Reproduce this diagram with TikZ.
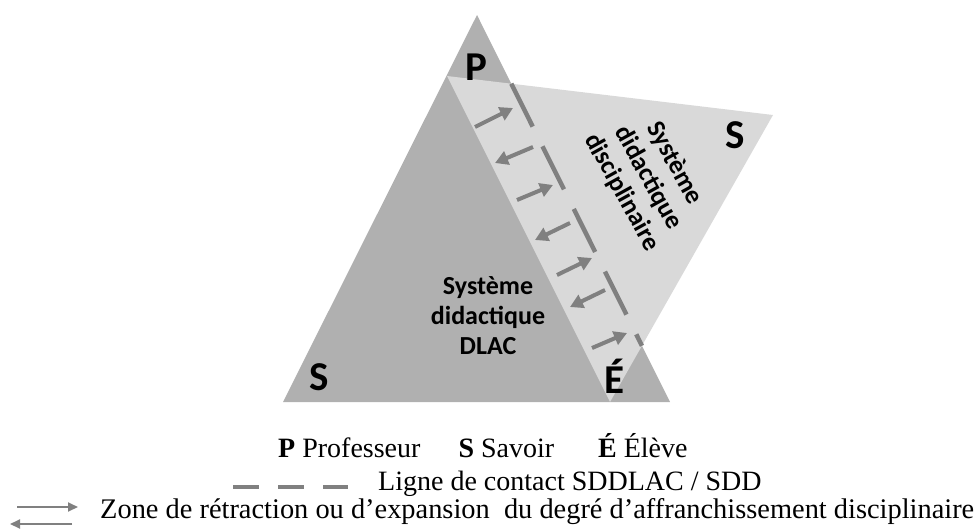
\documentclass[tikz,border=0pt]{standalone}
\usepackage{fontspec}
\setmainfont{Liberation Serif}
\newfontfamily\calib{Carlito}
\usetikzlibrary{arrows.meta}
\begin{document}
\begin{tikzpicture}[x=1pt,y=-1pt]
        \tikzstyle{sommet}=[font=\calib\bfseries\fontsize{41}{41}\selectfont, inner sep=0pt, anchor=base];
        \tikzstyle{systeme}=[font=\calib\bfseries\fontsize{26}{30}\selectfont, align=center, inner sep=0pt];
        \tikzstyle{legende}=[font=\fontsize{28}{28}\selectfont, inner sep=0pt, anchor=base west];
        \tikzstyle{fleche}=[draw=black!50, line width=4pt, -{Triangle[length=13pt,width=14pt]}];
        \tikzstyle{contact}=[draw=black!50, line width=4.5pt, dash pattern=on 48pt off 22pt];
        \useasboundingbox (0,0) rectangle (979,530);
        % les deux systemes
        \coordinate (P) at (477,15);
        \coordinate (S1) at (283,402);
        \coordinate (E) at (670,402);
        \coordinate (P2) at (447,76);
        \coordinate (S2) at (773,115);
        \coordinate (E2) at (610,402);
        \fill[black!31] (P) -- (S1) -- (E) -- cycle;
        \fill[black!15] (P2) -- (S2) -- (E2) -- cycle;
        \coordinate (c1) at (intersection of P--E and P2--S2);
        \coordinate (c2) at (intersection of P--E and S2--E2);
        \draw[contact] (c1) -- (c2);
        \foreach \x/\y/\u/\v in {475/127/513/108, 517/200/553/185, 557/275/592/258, 592/348/627/333, 533/147/495/163, 570/223/535/240, 605/290/570/307}
            \draw[fleche] (\x,\y) -- (\u,\v);
        \node[sommet] (lP) at (476,80) {P};
        \node[sommet] (lS2) at (735,148) {S};
        \node[sommet] (lS1) at (319,390) {S};
        \node[sommet] (lE) at (614,393) {É};
        \node[systeme] (dlac) at (488,316) {Système\\didactique\\DLAC};
        \node[systeme, rotate=-61] (sdd) at (648,178) {Système\\didactique\\disciplinaire};
        % legende
        \node[legende] (leg1) at (278,457) {\textbf{P} Professeur\hspace{38pt}\textbf{S} Savoir\hspace{44pt}\textbf{É} Élève};
        \node[legende] (leg2) at (378,490) {Ligne de contact SDDLAC / SDD};
        \node[legende, font=\fontsize{28.4}{28.4}\selectfont] (leg3) at (100,518) {Zone de rétraction ou d’expansion\ \ du degré d’affranchissement disciplinaire};
        \draw[black!50, line width=4pt, dash pattern=on 26pt off 19pt] (233,487) -- (348,487);
        \draw[black!50, line width=2pt, -{Triangle[length=10pt,width=9pt]}] (17,507) -- (78,507);
        \draw[black!50, line width=2pt, -{Triangle[length=10pt,width=9pt]}] (72,524) -- (10,524);
    \end{tikzpicture}
\end{document}
